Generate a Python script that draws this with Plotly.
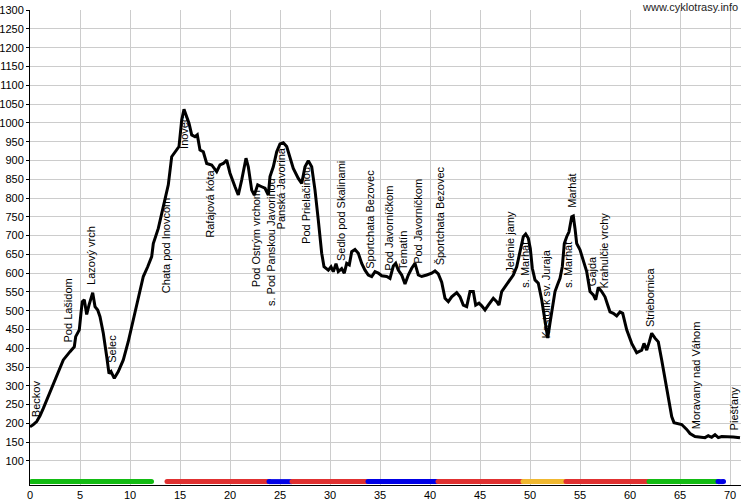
import plotly.graph_objects as go

# Elevation profile (km, m a.s.l.)
km = [0.0, 0.3, 0.67, 1.0, 1.33, 2.0, 2.67, 3.33, 4.0, 4.43, 4.57, 4.93, 5.1, 5.23, 5.43, 5.67, 5.9,
      6.27, 6.5, 6.77, 7.0, 7.33, 7.67, 7.9, 8.1, 8.43, 8.83, 9.33, 9.83, 10.33, 10.83, 11.33, 11.77,
      12.17, 12.33, 12.83, 13.33, 13.83, 14.17, 14.67, 14.9, 15.17, 15.4, 15.67, 15.9, 16.17, 16.5,
      16.73, 17.0, 17.33, 17.67, 18.17, 18.67, 19.0, 19.33, 19.67, 20.0, 20.5, 20.83, 21.17, 21.6,
      21.83, 22.17, 22.43, 22.77, 23.17, 23.5, 23.83, 24.0, 24.33, 24.67, 25.0, 25.33, 25.67, 26.0,
      26.33, 26.83, 27.17, 27.5, 27.83, 28.17, 28.5, 28.83, 29.17, 29.4, 29.83, 30.1, 30.33, 30.6,
      30.83, 31.17, 31.43, 31.67, 31.93, 32.17, 32.5, 32.83, 33.17, 33.5, 33.83, 34.17, 34.5, 34.83,
      35.17, 35.67, 36.0, 36.33, 36.57, 36.83, 37.17, 37.5, 37.83, 38.17, 38.5, 38.83, 39.17, 39.67,
      40.17, 40.5, 40.83, 41.17, 41.5, 41.83, 42.17, 42.67, 43.0, 43.33, 43.67, 44.0, 44.33, 44.57,
      44.9, 45.17, 45.5, 45.83, 46.33, 46.67, 46.9, 47.17, 47.5, 48.0, 48.33, 48.67, 49.0, 49.33,
      49.57, 49.83, 50.03, 50.23, 50.5, 50.83, 51.17, 51.43, 51.6, 51.77, 52.0, 52.23, 52.5, 52.73,
      53.0, 53.23, 53.43, 53.67, 53.9, 54.17, 54.33, 54.5, 54.67, 55.0, 55.33, 55.67, 56.0, 56.33,
      56.57, 56.83, 57.17, 57.5, 57.77, 58.0, 58.33, 58.67, 59.0, 59.27, 59.67, 60.17, 60.67, 61.17,
      61.4, 61.67, 61.93, 62.17, 62.5, 62.83, 63.17, 63.5, 63.83, 64.17, 64.4, 64.83, 65.17, 65.67,
      66.0, 66.5, 67.0, 67.5, 67.83, 68.17, 68.5, 68.83, 69.17, 69.67, 70.33, 71.0]
elev = [191, 196, 205, 220, 240, 284, 329, 369, 391, 404, 431, 449, 494, 524, 529, 490, 515,
        548, 511, 502, 484, 440, 378, 333, 338, 320, 338, 369, 418, 475, 529, 591, 617,
        644, 679, 719, 777, 835, 910, 928, 937, 1008, 1036, 1016, 999, 968, 963,
        968, 928, 923, 892, 888, 870, 888, 892, 901, 866, 830, 808, 848, 906,
        883, 821, 808, 835, 830, 826, 808, 857, 883, 923, 944, 947, 937, 906,
        879, 852, 839, 883, 899, 883, 821, 741, 653, 617, 608, 617, 604, 625,
        604, 612, 600, 626, 622, 657, 663, 653, 626, 608, 595, 591, 604, 600,
        593, 591, 586, 619, 626, 608, 595, 571, 595, 613, 626, 595, 591, 595,
        600, 606, 598, 576, 533, 524, 537, 548, 537, 515, 511, 551, 551, 515,
        520, 513, 502, 515, 533, 524, 515, 551, 564, 582, 595, 617, 653, 697,
        704, 693, 666, 613, 582, 573, 529, 484, 449, 427, 467, 511, 551, 568,
        586, 617, 679, 697, 710, 750, 752, 719, 679, 662, 631, 604, 551, 542,
        529, 562, 551, 537, 515, 497, 493, 486, 497, 493, 449, 413, 388, 395,
        413, 395, 417, 440, 427, 417, 369, 316, 262, 218, 202, 199, 197, 184,
        173, 165, 163, 162, 167, 163, 170, 162, 165, 165, 164, 162]

# Waypoint labels: name, km, elevation where the label starts
label_names = ["Beckov", "Pod Lašidom", "Lazový vrch", "Selec", "Chata pod Inovcom", "Inovec",
               "Rafajová kóta", "Pod Ostrým vrchom", "s. Pod Panskou Javorinou", "Panská Javorina",
               "Pod Prielačinou", "Sedlo pod Skalinami", "Sportchata Bezovec", "Pod Javorníčkom",
               "Tematín", "Pod Javorníčkom", "Športchata Bezovec", "Jelenie jamy", "s. Marhát",
               "Kostolík sv. Juraja", "s. Marhát", "Marhát", "Gajda", "Krahulčie vrchy",
               "Striebornica", "Moravany nad Váhom", "Piešťany"]
label_km = [0.3, 3.4, 5.8, 7.9, 13.3, 15.1, 17.7, 22.3, 23.8, 24.8, 27.3, 30.8, 33.7, 35.6,
            37.0, 38.5, 40.7, 47.7, 49.2, 51.3, 53.5, 53.9, 55.9, 57.1, 61.7, 66.3, 70.1]
label_elev = [218, 418, 570, 364, 548, 932, 697, 564, 515, 719, 679, 635, 613, 608,
              610, 626, 622, 604, 564, 427, 564, 777, 568, 562, 459, 187, 184]

# Surface-type bar segments
seg_start = [0.15, 13.7, 23.9, 26.2, 33.8, 40.8, 49.3, 53.6, 61.9, 68.8]
seg_end = [12.15, 23.9, 26.2, 33.8, 40.8, 49.3, 53.6, 61.9, 68.8, 69.35]
seg_color = ["#12bb12", "#e03030", "#0000e6", "#e03030", "#0000e6", "#e03030", "#f0b830",
             "#e03030", "#12bb12", "#0000e6"]
bar_level = 45

x_ticks = list(range(0, 71, 5))
y_ticks = list(range(100, 1301, 50))

fig = go.Figure()

for s, e, c in zip(seg_start, seg_end, seg_color):
    fig.add_trace(go.Scatter(x=[s, e], y=[bar_level, bar_level], mode="lines+markers",
                             line=dict(color=c, width=5), marker=dict(color=c, size=5),
                             hoverinfo="skip", showlegend=False))

fig.add_trace(go.Scatter(x=km, y=elev, mode="lines",
                         line=dict(color="black", width=3), showlegend=False))

annotations = []
for n, x, y in zip(label_names, label_km, label_elev):
    annotations.append(dict(x=x, y=y, xref="x", yref="y", text=n, showarrow=False,
                            textangle=-90, xanchor="left", yanchor="bottom",
                            xshift=-4, yshift=-2, borderpad=0,
                            font=dict(family="Liberation Sans, Arial", size=11, color="black")))
annotations.append(dict(x=1, y=1, xref="paper", yref="paper", text="www.cyklotrasy.info",
                        showarrow=False, xanchor="right", yanchor="middle", yshift=3, xshift=-1,
                        font=dict(family="Liberation Sans, Arial", size=11, color="#222222")))

fig.update_layout(
    width=750, height=500,
    margin=dict(l=30, r=9, t=10, b=15),
    paper_bgcolor="white", plot_bgcolor="white",
    annotations=annotations,
    font=dict(family="Liberation Sans, Arial", size=11, color="black"),
)
fig.update_xaxes(range=[0, 71.1], tickvals=x_ticks, showgrid=True, gridcolor="#cccccc",
                 gridwidth=1, showline=True, linecolor="black", linewidth=1,
                 ticks="", zeroline=False,
                 automargin=False, tickfont=dict(size=11, color="black"))
fig.update_yaxes(range=[36, 1300.5], tickvals=y_ticks, showgrid=True, gridcolor="#cccccc",
                 gridwidth=1, showline=True, linecolor="black", linewidth=1,
                 ticks="outside", ticklen=3, tickcolor="black", zeroline=False,
                 automargin=False, tickfont=dict(size=11, color="black"))

fig.write_html("out.html", config={"displayModeBar": False},
               post_script="document.body.style.margin='0px';document.body.style.overflow='hidden';")
